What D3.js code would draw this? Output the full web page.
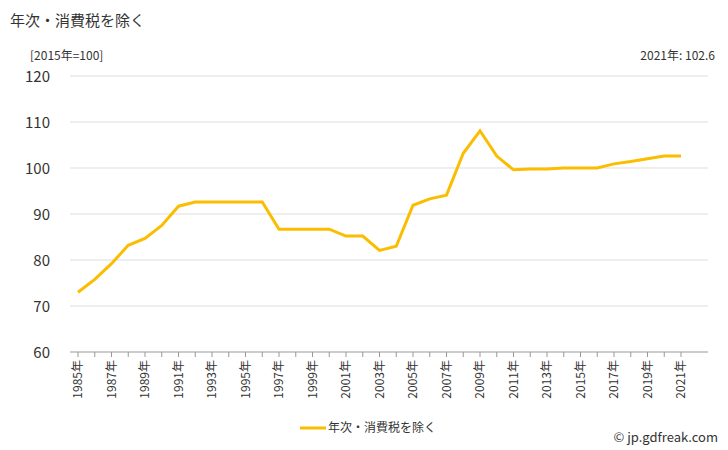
<!DOCTYPE html>
<html>
<head>
<meta charset="utf-8">
<script src="https://cdn.jsdelivr.net/npm/d3@7"></script>
<style>
  body { margin: 0; background: #fff; font-family: "Noto Sans CJK JP", "Noto Sans", sans-serif; }
  text { fill: #333; }
</style>
</head>
<body>
<div class="chart"></div>
<script>
var years = d3.range(1985, 2022);
var values = [73.0, 75.8, 79.2, 83.2, 84.7, 87.5, 91.7, 92.6, 92.6, 92.6, 92.6, 92.6,
  86.7, 86.7, 86.7, 86.7, 85.2, 85.2, 82.1, 83.0, 91.9, 93.3, 94.1, 103.2, 108.1,
  102.6, 99.6, 99.8, 99.8, 100.0, 100.0, 100.0, 100.9, 101.4, 102.0, 102.6, 102.6];
var yTicks = [60, 70, 80, 90, 100, 110, 120];
var seriesName = '年次・消費税を除く';

var W = 728, H = 450;
var m = {left: 70, right: 38, top: 76, bottom: 98};

var svg = d3.select('.chart').append('svg').attr('width', W).attr('height', H);

var x = d3.scalePoint().domain(years).range([m.left + 8, W - m.right - 9]);
var y = d3.scaleLinear().domain([60, 120]).range([H - m.bottom, m.top]);

svg.append('text').attr('x', 10).attr('y', 26).style('font-size', '15px').text(seriesName);
svg.append('text').attr('x', 30).attr('y', 60).style('font-size', '12px').text('[2015年=100]');
svg.append('text').attr('x', W - 13).attr('y', 60).attr('text-anchor', 'end')
  .style('font-size', '12px').text('2021年: 102.6');

svg.append('g').selectAll('line').data(yTicks).enter().append('line')
  .attr('x1', m.left).attr('x2', W - 20)
  .attr('y1', d => y(d)).attr('y2', d => y(d))
  .attr('stroke', d => d === 60 ? '#999' : '#ddd');

svg.append('g').selectAll('text').data(yTicks).enter().append('text')
  .attr('x', m.left - 20).attr('y', d => y(d) + 6).attr('text-anchor', 'end')
  .style('font-size', '15px').text(d => d);

var xa = svg.append('g');
xa.selectAll('line').data(years).enter().append('line')
  .attr('x1', d => x(d)).attr('x2', d => x(d))
  .attr('y1', y(60)).attr('y2', y(60) + 5).attr('stroke', '#999');
xa.selectAll('text').data(years.filter(d => d % 2 === 1)).enter().append('text')
  .attr('transform', d => 'translate(' + (x(d) + 4) + ',' + (y(60) + 8) + ') rotate(-90)')
  .attr('text-anchor', 'end').style('font-size', '12px').text(d => d + '年');

svg.append('path').datum(values)
  .attr('fill', 'none').attr('stroke', '#fbbd00').attr('stroke-width', 3)
  .attr('d', d3.line().x((d, i) => x(years[i])).y(d => y(d)));

svg.append('line').attr('x1', 300).attr('x2', 326).attr('y1', 428).attr('y2', 428)
  .attr('stroke', '#fbbd00').attr('stroke-width', 3);
svg.append('text').attr('x', 328).attr('y', 432).style('font-size', '12px').text(seriesName);

svg.append('text').attr('x', W - 10).attr('y', 442).attr('text-anchor', 'end')
  .style('font-size', '13px').text('© jp.gdfreak.com');
</script>
</body>
</html>
